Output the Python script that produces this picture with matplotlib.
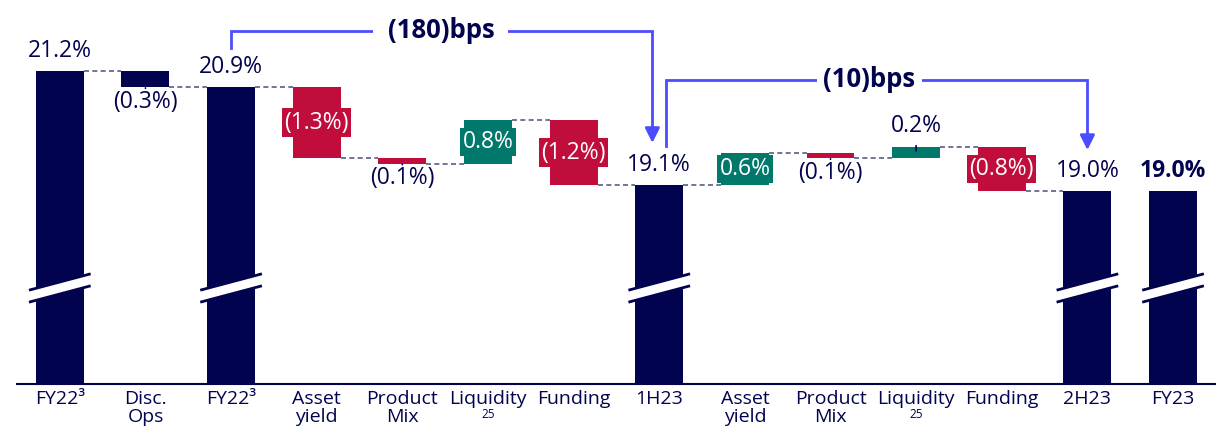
import matplotlib
matplotlib.use("Agg")
import matplotlib.pyplot as plt
from matplotlib.patches import Polygon

plt.rcParams['font.family'] = ['Open Sans', 'DejaVu Sans']

# data
categories = ["FY22³", "Disc.\nOps", "FY22³", "Asset\nyield", "Product\nMix", "Liquidity", "Funding",
              "1H23", "Asset\nyield", "Product\nMix", "Liquidity", "Funding", "2H23", "FY23"]
values = [21.2, -0.3, 20.9, -1.3, -0.1, 0.8, -1.2, 19.1, 0.6, -0.1, 0.2, -0.8, 19.0, 19.0]
is_total = [True, False, True, False, False, False, False, True, False, False, False, False, True, True]
bridge_labels = ["(180)bps", "(10)bps"]
bridge_pairs = [(2, 7), (7, 12)]

# style
NAVY = "#02034F"
RED = "#C10D3B"
TEAL = "#00786C"
BLUE = "#4C4CFF"
DASH = "#5B5B88"
label_pos = ["top", "below", "top", "in", "below", "in", "in", "top", "in", "below", "above", "in", "top", "top"]
navy_steps = [1]
bar_w = 0.56
y_min, y_max = 15.46, 22.5
break_y = 17.22
VAL_FS = 16.5

fig = plt.figure(figsize=(12.19, 4.30), dpi=100)
ax = fig.add_axes([17 / 1219, 46 / 430, 1198 / 1219, 384 / 430])
ax.set_xlim(-0.5, 13.49)
ax.set_ylim(y_min, y_max)

# running levels
bottoms, tops = [], []
level = 0
for v, tot in zip(values, is_total):
    if tot:
        level = v
        bottoms.append(0)
        tops.append(v)
    else:
        start = level
        level = level + v
        bottoms.append(min(start, level))
        tops.append(max(start, level))

for i, v in enumerate(values):
    if is_total[i] or i in navy_steps:
        color = NAVY
    elif v < 0:
        color = RED
    else:
        color = TEAL
    ax.bar(i, tops[i] - bottoms[i], bottom=bottoms[i], width=bar_w, color=color, zorder=2)

    if is_total[i]:
        txt = f"{v:.1f}%"
    elif v < 0:
        txt = f"({abs(v):.1f}%)"
    else:
        txt = f"{v:.1f}%"

    pos = label_pos[i]
    if pos == "top":
        weight = "bold" if i == len(values) - 1 else "normal"
        ax.annotate(txt, (i, tops[i]), xytext=(0, 6), textcoords="offset points",
                    ha="center", va="bottom", fontsize=VAL_FS, color=NAVY, fontweight=weight)
    elif pos == "in":
        ax.text(i, (tops[i] + bottoms[i]) / 2, txt, ha="center", va="center", fontsize=VAL_FS,
                color="white", zorder=4,
                bbox=dict(boxstyle="square,pad=0.1", facecolor=color, edgecolor="none"))
    elif pos == "below":
        ax.annotate("", (i, bottoms[i] + 0.04), xytext=(i, bottoms[i] - 0.07),
                    arrowprops=dict(arrowstyle="-", color=NAVY, lw=1.2), zorder=3)
        ax.annotate(txt, (i, bottoms[i]), xytext=(0, -2), textcoords="offset points",
                    ha="center", va="top", fontsize=VAL_FS, color=NAVY)
    elif pos == "above":
        ax.annotate("", (i, tops[i] - 0.12), xytext=(i, tops[i] + 0.08),
                    arrowprops=dict(arrowstyle="-", color=NAVY, lw=1.2), zorder=3)
        ax.annotate(txt, (i, tops[i]), xytext=(0, 7), textcoords="offset points",
                    ha="center", va="bottom", fontsize=VAL_FS, color=NAVY)

# connectors
for i in range(len(values) - 1):
    if is_total[i] and is_total[i + 1]:
        continue
    if is_total[i]:
        lvl = tops[i]
    else:
        lvl = bottoms[i] if values[i] < 0 else tops[i]
    ax.plot([i + bar_w / 2, i + 1 - bar_w / 2], [lvl, lvl], color=DASH, lw=1.2,
            linestyle=(0, (3, 2)), zorder=1)

# axis break marks
half = 0.36
rise = 0.15
thick = 0.11
for i in range(len(values)):
    if not is_total[i]:
        continue
    xl, xr = i - half, i + half
    poly = Polygon([(xl, break_y - rise + thick), (xr, break_y + rise + thick),
                    (xr, break_y + rise - thick), (xl, break_y - rise - thick)],
                   closed=True, facecolor="white", edgecolor="none", zorder=3)
    ax.add_patch(poly)
    for s in (thick, -thick):
        ax.plot([xl, xr], [break_y - rise + s, break_y + rise + s], color=NAVY, lw=2,
                solid_capstyle="butt", zorder=4)

# bridge arrows
bridge_geo = [
    dict(start_y=21.62, top_y=21.94, x0_off=0.0, x1_off=-0.08, tip_y=19.88, pad=0.55),
    dict(start_y=19.83, top_y=21.04, x0_off=0.08, x1_off=0.0, tip_y=19.75, pad=0.25),
]
for (a, b), lab, g in zip(bridge_pairs, bridge_labels, bridge_geo):
    x0 = a + g["x0_off"]
    x1 = b + g["x1_off"]
    ax.plot([x0, x0, x1, x1], [g["start_y"], g["top_y"], g["top_y"], g["tip_y"] + 0.2],
            color=BLUE, lw=2, zorder=5, solid_joinstyle="miter")
    ax.annotate("", (x1, g["tip_y"]), xytext=(x1, g["tip_y"] + 0.3),
                arrowprops=dict(arrowstyle="-|>", color=BLUE, lw=2, mutation_scale=22,
                                shrinkA=0, shrinkB=0), zorder=5)
    ax.text((a + b) / 2 - 0.05, g["top_y"], lab, ha="center", va="center", fontsize=18.5,
            fontweight="bold", color=NAVY, zorder=6,
            bbox=dict(boxstyle=f"square,pad={g['pad']}", facecolor="white", edgecolor="none"))

# axes styling
for side in ["top", "left", "right"]:
    ax.spines[side].set_visible(False)
ax.spines["bottom"].set_color(NAVY)
ax.spines["bottom"].set_linewidth(1.5)
ax.set_yticks([])
ax.set_xticks(range(len(categories)))
ax.set_xticklabels(categories, fontsize=14, color=NAVY, linespacing=1.0)
ax.tick_params(axis="x", length=0, pad=4)

for i, c in enumerate(categories):
    if c == "Liquidity":
        ax.annotate("25", (i, 0), xycoords=("data", "axes fraction"), xytext=(0, -17),
                    textcoords="offset points", ha="center", va="top", fontsize=8.5, color=NAVY)

fig.savefig("out.png", dpi=100)
